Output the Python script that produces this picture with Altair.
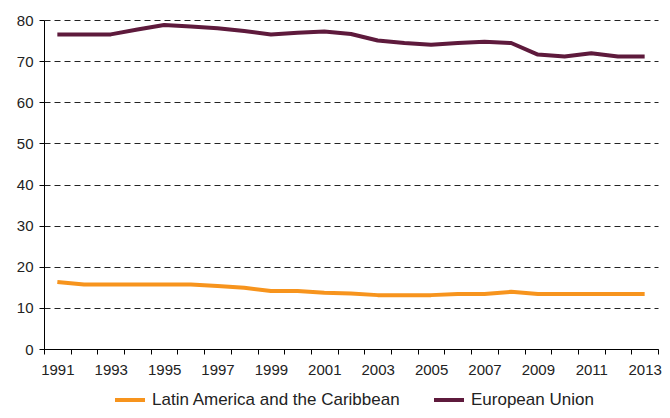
import altair as alt
import pandas as pd

years = list(range(1991, 2014))
latin_america = [16.3, 15.7, 15.7, 15.7, 15.7, 15.7, 15.3, 14.9, 14.1, 14.1, 13.7, 13.5,
                 13.1, 13.1, 13.1, 13.4, 13.4, 13.9, 13.4, 13.4, 13.4, 13.4, 13.4]
european_union = [76.5, 76.5, 76.5, 77.7, 78.8, 78.4, 78.0, 77.3, 76.5, 76.9, 77.2, 76.6,
                  75.0, 74.4, 74.0, 74.4, 74.7, 74.4, 71.6, 71.1, 71.9, 71.1, 71.1]
series_names = ["Latin America and the Caribbean", "European Union"]
series_colors = ["#F7941D", "#5E1A3C"]

rows = []
for y, v in zip(years, latin_america):
    rows.append({"year": y, "value": v, "series": series_names[0]})
for y, v in zip(years, european_union):
    rows.append({"year": y, "value": v, "series": series_names[1]})
df = pd.DataFrame(rows)

font = "Liberation Sans"

chart = alt.Chart(df).mark_line(strokeWidth=4, strokeJoin="round").encode(
    x=alt.X(
        "year:O",
        title=None,
        scale=alt.Scale(type="band", paddingInner=0, paddingOuter=0),
        axis=alt.Axis(
            labelExpr="datum.value % 2 == 1 ? datum.label : ''",
            tickBand="extent",
            labelAngle=0,
            grid=False,
            tickSize=5,
            labelPadding=8,
            labelFontSize=15,
            labelFont=font,
            labelColor="#222",
            domainColor="#000",
            tickColor="#000",
            labelOverlap=False,
            labelBound=False,
        ),
    ),
    y=alt.Y(
        "value:Q",
        title=None,
        scale=alt.Scale(domain=[0, 80], nice=False),
        axis=alt.Axis(
            values=[0, 10, 20, 30, 40, 50, 60, 70, 80],
            grid=True,
            gridDash=[6, 4],
            gridColor="#222",
            gridWidth=1,
            tickSize=5,
            labelPadding=6,
            labelFontSize=15,
            labelFont=font,
            labelColor="#222",
            domainColor="#000",
            tickColor="#000",
        ),
    ),
    color=alt.Color(
        "series:N",
        title=None,
        scale=alt.Scale(domain=series_names, range=series_colors),
        sort=series_names,
        legend=alt.Legend(
            orient="none",
            legendX=69,
            legendY=363,
            direction="horizontal",
            symbolType="stroke",
            symbolStrokeWidth=4,
            symbolSize=900,
            labelFontSize=17,
            labelFont=font,
            labelColor="#222",
            labelOffset=5,
            columnPadding=25,
            padding=0,
            labelLimit=400,
        ),
    ),
).properties(
    width=614,
    height=329,
    autosize=alt.AutoSizeParams(type="none"),
    padding={"left": 36, "top": 12, "right": 4, "bottom": 61},
).configure_view(stroke=None)

chart.save("out.html", embed_options={"renderer": "svg", "actions": False})
